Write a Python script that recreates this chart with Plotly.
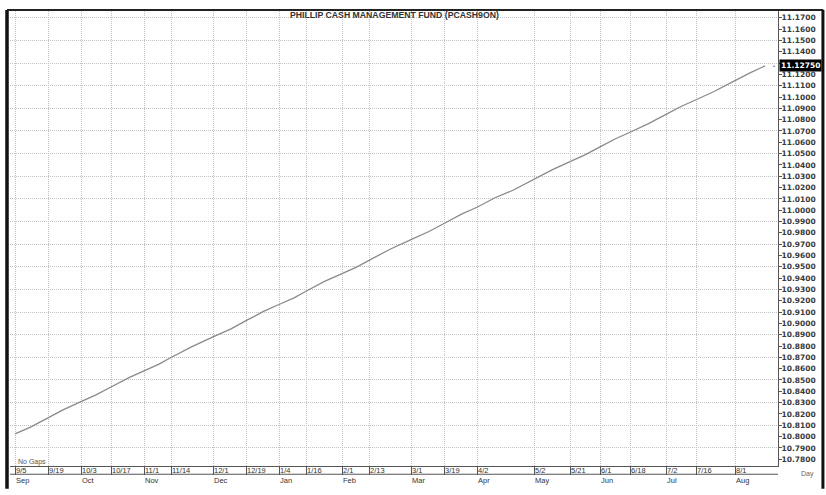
import plotly.graph_objects as go

# ---- data ----
title_text = "PHILLIP CASH MANAGEMENT FUND (PCASH9ON)"
tick_labels = ["9/5", "9/19", "10/3", "10/17", "11/1", "11/14", "12/1", "12/19",
               "1/4", "1/16", "2/1", "2/13", "3/1", "3/19", "4/2", "5/2",
               "5/21", "6/1", "6/18", "7/2", "7/16", "8/1"]
month_labels = ["Sep", "", "Oct", "", "Nov", "", "Dec", "", "Jan", "", "Feb", "",
                "Mar", "", "Apr", "May", "", "Jun", "", "Jul", "", "Aug"]
tick_bars = [0, 11, 22, 32, 43, 52, 66, 77, 88, 97, 109, 118, 132, 143, 154, 173,
             185, 195, 205, 217, 227, 240]

bars = [0, 5, 11, 16, 22, 27, 32, 38, 43, 48, 52, 59, 66, 72, 77, 83, 88, 93, 97,
        103, 109, 114, 118, 125, 132, 138, 143, 149, 154, 160, 166, 173, 179, 185,
        190, 195, 200, 205, 211, 217, 222, 227, 233, 240, 245, 250]
nav = [10.8024, 10.8082, 10.8165, 10.8236, 10.8308, 10.8368, 10.8438, 10.8521,
       10.8581, 10.8640, 10.8699, 10.8795, 10.8881, 10.8952, 10.9024, 10.9108,
       10.9167, 10.9226, 10.9284, 10.9369, 10.9440, 10.9500, 10.9557, 10.9655,
       10.9740, 10.9812, 10.9883, 10.9968, 11.0026, 11.0110, 11.0176, 11.0273,
       11.0357, 11.0429, 11.0489, 11.0559, 11.0629, 11.0689, 11.0763, 11.0846,
       11.0916, 11.0976, 11.1049, 11.1145, 11.1214, 11.1275]

x_range = [-1.67, 254.33]
y_range = [10.7740, 11.1760]

FONT = "Liberation Sans"
YFONT = "DejaVu Sans"

ticktext = [d + ("<br>" + m if m else "<br> ") for d, m in zip(tick_labels, month_labels)]

fig = go.Figure()
fig.add_trace(go.Scatter(x=bars, y=nav, mode="lines",
                         line=dict(color="#8a8a8a", width=1.3),
                         hoverinfo="skip", showlegend=False))
# invisible trace to realise the grid-only overlay axis
fig.add_trace(go.Scatter(x=bars, y=nav, yaxis="y2", mode="lines",
                         line=dict(width=0, color="rgba(0,0,0,0)"),
                         hoverinfo="skip", showlegend=False))

fig.update_layout(
    width=826, height=495,
    margin=dict(l=10, r=48, t=11, b=15),
    paper_bgcolor="white", plot_bgcolor="white",
    font=dict(family=FONT, color="#444"),
    xaxis=dict(range=x_range, tickmode="array", tickvals=tick_bars, ticktext=ticktext,
               ticklabelposition="outside right", ticklabelstandoff=-3,
               ticks="outside", ticklen=8, tickcolor="#555", tickwidth=1,
               tickfont=dict(size=7.5, color="#333", family=FONT),
               showline=True, linecolor="#555", linewidth=1,
               showgrid=True, gridcolor="#c2c2c2", griddash="1px,1px", gridwidth=1,
               zeroline=False, fixedrange=True),
    yaxis=dict(range=y_range, side="right", tick0=10.78, dtick=0.01, tickformat=".4f",
               ticks="outside", ticklen=3, tickcolor="#555", ticklabelstandoff=-2,
               tickfont=dict(size=7.5, color="#3a3a3a", family=YFONT, weight="bold"),
               showline=True, linecolor="#555", linewidth=1,
               showgrid=False, zeroline=False, fixedrange=True),
    yaxis2=dict(range=y_range, overlaying="y", side="right", tick0=10.79, dtick=0.02,
                showticklabels=False, ticks="", showgrid=True, gridcolor="#c2c2c2",
                griddash="1px,1px", gridwidth=1, zeroline=False, showline=False,
                fixedrange=True),
)

shapes = [
    # frame
    dict(type="line", xref="paper", yref="paper", x0=-0.0039, x1=-0.0039, y0=1.0021, y1=-0.05,
         line=dict(color="#111", width=3.5)),
    dict(type="line", xref="paper", yref="paper", x0=-0.0039, x1=1.059, y0=1.0021, y1=1.0021,
         line=dict(color="#222", width=2)),
    dict(type="line", xref="paper", yref="paper", x0=1.0585, x1=1.0585, y0=1.0021, y1=-0.05,
         line=dict(color="#111", width=3)),
    # lower edge of the day-label row
    dict(type="line", xref="paper", yref="paper", x0=0, x1=1, y0=-0.0181, y1=-0.0181,
         line=dict(color="#555", width=1)),
]
fig.update_layout(shapes=shapes)

annotations = [
    dict(text="<b>" + title_text + "</b>", xref="paper", yref="paper", x=0.5, y=0.991,
         xanchor="center", yanchor="middle", showarrow=False,
         font=dict(size=8.7, color="#333", family=FONT)),
    dict(text="No Gaps", xref="paper", yref="paper", x=0.008, y=0.009,
         xanchor="left", yanchor="middle", showarrow=False,
         font=dict(size=7, color="#555", family=FONT)),
    dict(text="Day", xref="paper", yref="paper", x=1.038, y=-0.018,
         xanchor="center", yanchor="middle", showarrow=False,
         font=dict(size=7, color="#666", family=FONT)),
    dict(text="<b>%.5f</b>" % nav[-1], xref="paper", yref="y", x=1.0015, y=nav[-1],
         xanchor="left", yanchor="middle", showarrow=False, bgcolor="black",
         borderpad=1, font=dict(size=7.5, color="white", family=YFONT)),
    dict(text="•", xref="paper", yref="y", x=0.9948, y=nav[-1],
         xanchor="center", yanchor="middle", showarrow=False,
         font=dict(size=6, color="#777", family=FONT)),
]
fig.update_layout(annotations=annotations)

fig.write_html("out.html", config={"displayModeBar": False},
               post_script="document.body.style.margin='0';")
